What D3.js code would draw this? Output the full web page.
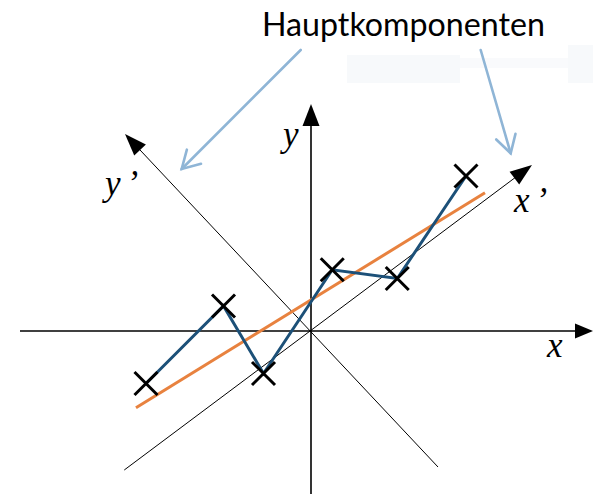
<!DOCTYPE html>
<html><head><meta charset="utf-8">
<script src="https://cdn.jsdelivr.net/npm/d3@7"></script>
<style>html,body{margin:0;padding:0;background:#fff;overflow:hidden}</style>
</head><body><svg id="c" width="593" height="494"></svg>
<script>
// Data (units: coordinate system with origin at axes crossing)
const pointsX = [-6.6, -3.5, -1.9, 0.85, 3.45, 6.2];
const pointsY = [-2.1, 1.0, -1.7, 2.45, 2.1, 6.2];
const fitLineX = [-7.0, 6.96];
const fitLineY = [-3.07, 5.53];
const axisX = {x: [-11.64, 11.28], y: [0, 0], label: "x"};
const axisY = {x: [0, 0], y: [-6.52, 9.08], label: "y"};
const axisXp = {x: [-7.47, 8.84], y: [-5.56, 6.64], label: "x\u2019"};
const axisYp = {x: [5.08, -7.44], y: [-5.44, 7.88], label: "y\u2019"};
const title = "Hauptkomponenten";

const svg = d3.select("#c");
const W = 593, H = 494;
const sx = d3.scaleLinear().domain([-12.44, 11.28]).range([0, W]);
const sy = d3.scaleLinear().domain([13.24, -6.52]).range([0, H]);

// faint background artifacts
const bg = svg.append("g");
bg.append("rect").attr("x",347).attr("y",55).attr("width",113).attr("height",28).attr("fill","#f7f9fb");
bg.append("rect").attr("x",460).attr("y",58).attr("width",108).attr("height",10).attr("fill","#f9fafc");
bg.append("rect").attr("x",568).attr("y",45).attr("width",25).attr("height",38).attr("fill","#f7f9fb");

function arrowHead(g, x1, y1, x2, y2, len, hw, fill) {
  const dx = x2 - x1, dy = y2 - y1, L = Math.hypot(dx, dy);
  const ux = dx / L, uy = dy / L;
  const bx = x2 - ux * len, by = y2 - uy * len;
  g.append("path")
    .attr("d", `M${x2},${y2}L${bx - uy * hw},${by + ux * hw}L${bx + uy * hw},${by - ux * hw}Z`)
    .attr("fill", fill);
}

function drawAxis(a, sw, len, hw) {
  const x1 = sx(a.x[0]), y1 = sy(a.y[0]), x2 = sx(a.x[1]), y2 = sy(a.y[1]);
  const g = svg.append("g");
  const dx = x2 - x1, dy = y2 - y1, L = Math.hypot(dx, dy);
  g.append("line").attr("x1", x1).attr("y1", y1)
    .attr("x2", x2 - dx / L * len * 0.8).attr("y2", y2 - dy / L * len * 0.8)
    .attr("stroke", "#000").attr("stroke-width", sw);
  arrowHead(g, x1, y1, x2, y2, len, hw, "#000");
}
drawAxis(axisX, 1.6, 18, 7.5);
drawAxis(axisY, 1.6, 22, 8.5);
drawAxis(axisXp, 1, 22, 8);
drawAxis(axisYp, 1, 22, 8);

// axis labels
const lab = svg.append("g").attr("font-family", "'Liberation Serif','Times New Roman',serif")
  .attr("font-style", "italic").attr("font-size", 35).attr("fill", "#000");
lab.append("text").attr("x", 547).attr("y", 357).text(axisX.label);
lab.append("text").attr("x", 283).attr("y", 146).text(axisY.label);
lab.append("text").attr("x", 514).attr("y", 212).attr("letter-spacing", 6).text(axisXp.label);
lab.append("text").attr("x", 105).attr("y", 195).attr("letter-spacing", 6).text(axisYp.label);

// fit line (orange)
svg.append("line")
  .attr("x1", sx(fitLineX[0])).attr("y1", sy(fitLineY[0]))
  .attr("x2", sx(fitLineX[1])).attr("y2", sy(fitLineY[1]))
  .attr("stroke", "#e8823f").attr("stroke-width", 3);

// data polyline (dark blue)
const pts = pointsX.map((x, i) => [x, pointsY[i]]);
svg.append("path")
  .attr("d", d3.line().x(d => sx(d[0])).y(d => sy(d[1]))(pts))
  .attr("fill", "none").attr("stroke", "#1c5078").attr("stroke-width", 3)
  .attr("stroke-linejoin", "miter");

// crosses
const cs = 11.5;
svg.append("g").selectAll("path").data(pts).join("path")
  .attr("d", d => {
    const x = sx(d[0]), y = sy(d[1]);
    return `M${x - cs},${y - cs}L${x + cs},${y + cs}M${x - cs},${y + cs}L${x + cs},${y - cs}`;
  })
  .attr("stroke", "#000").attr("stroke-width", 3).attr("fill", "none");

// title
svg.append("text").attr("x", 262).attr("y", 36)
  .attr("font-family", "Lato, 'Open Sans', sans-serif").attr("font-size", 32)
  .attr("textLength", 283).attr("lengthAdjust", "spacingAndGlyphs")
  .attr("fill", "#000").text(title);

// annotation arrows (light blue, open heads)
const ann = [[300.7, 50, 181.7, 169], [480.7, 50, 510.7, 153.3]];
const ag = svg.append("g").attr("stroke", "#8fb5d6").attr("stroke-width", 2.6)
  .attr("fill", "none").attr("stroke-linecap", "round");
ann.forEach(([x1, y1, x2, y2]) => {
  ag.append("line").attr("x1", x1).attr("y1", y1).attr("x2", x2).attr("y2", y2);
  const ang = Math.atan2(y1 - y2, x1 - x2), a = Math.PI / 6, l = 20;
  ag.append("path").attr("d",
    `M${x2 + l * Math.cos(ang - a)},${y2 + l * Math.sin(ang - a)}L${x2},${y2}L${x2 + l * Math.cos(ang + a)},${y2 + l * Math.sin(ang + a)}`);
});
</script></body></html>
